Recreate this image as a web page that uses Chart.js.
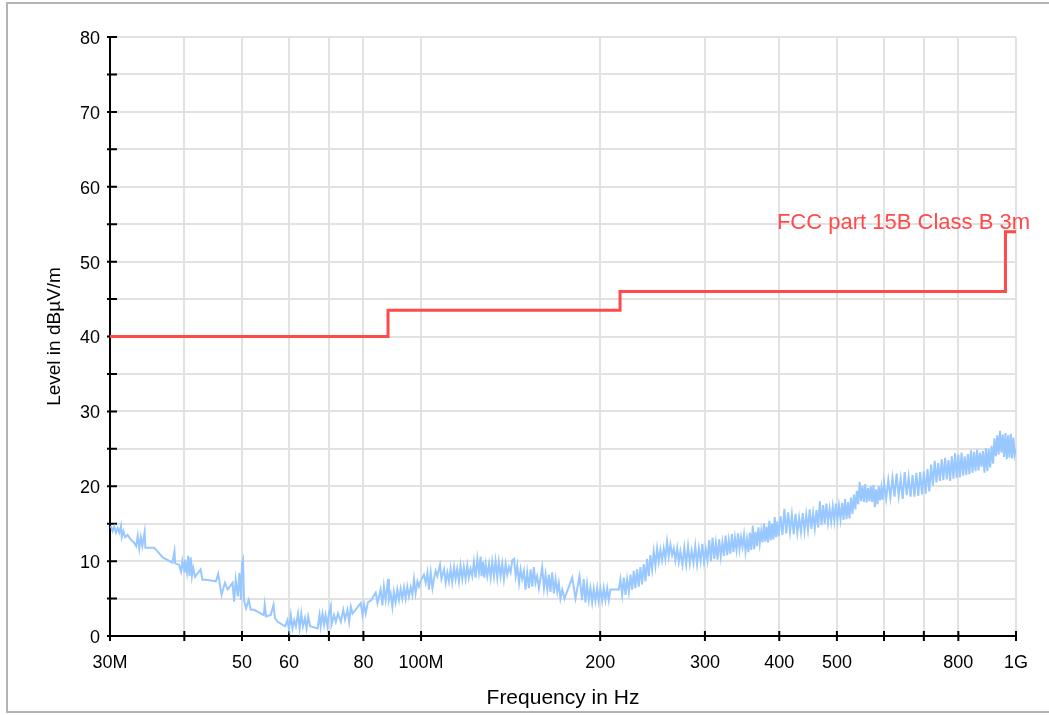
<!DOCTYPE html>
<html>
<head>
<meta charset="utf-8">
<title>Radiated emission scan</title>
<script src="https://cdn.jsdelivr.net/npm/chart.js@4.4.1/dist/chart.umd.min.js"></script>
<style>
  html, body { margin: 0; padding: 0; background: #fff; overflow: hidden; }
  .frame { position: absolute; left: 6px; top: 2px; width: 1100px; height: 711px; border: 2px solid #b3b3b3; box-sizing: border-box; }
  #chart { position: absolute; left: 0; top: 0; }
</style>
</head>
<body>
<div class="frame"></div>
<canvas id="chart" width="1049" height="715"></canvas>
<script>
// axis ticks (frequency in MHz, level in dBµV/m)
const xTickValues = [30, 40, 50, 60, 70, 80, 100, 200, 300, 400, 500, 600, 700, 800, 1000];
const xTickLabels = ['30M', '', '50', '60', '', '80', '100M', '200', '300', '400', '500', '', '', '800', '1G'];
const yTickValues = [0, 5, 10, 15, 20, 25, 30, 35, 40, 45, 50, 55, 60, 65, 70, 75, 80];
const yTickLabels = ['0', '', '10', '', '20', '', '30', '', '40', '', '50', '', '60', '', '70', '', '80'];

// limit line
const limitName = 'FCC part 15B Class B 3m';
const limitFreq = [30, 88, 216, 960, 1000];
const limitLevel = [40, 43.5, 46, 54, 54];

// measured trace
const traceFreq = [
  30.1, 30.3, 30.5, 30.7, 30.9, 31.1, 31.3, 31.4, 31.6, 31.8, 32.1, 32.5, 32.9, 33.2, 33.4, 33.6, 33.8, 34.0, 34.3, 34.4,
  35.6, 36.8, 38.2, 38.5, 38.6, 39.2, 39.5, 39.7, 40.0, 40.1, 40.4, 40.6, 40.8, 41.0, 41.2, 41.4, 41.7, 42.6, 42.9, 43.5,
  45.2, 45.6, 46.2, 46.8, 47.3, 48.2, 48.5, 48.8, 49.2, 49.5, 49.8, 50.0, 50.2, 50.4, 50.8, 51.3, 51.75, 52.4, 54.4, 54.6,
  54.9, 55.9, 56.5, 56.8, 57.4, 59.1, 59.6, 60.0, 60.4, 60.8, 61.2, 61.6, 62.1, 62.5, 62.9, 63.3, 63.8, 64.2, 64.6, 65.1,
  67.0, 67.5, 67.8, 68.3, 68.7, 69.1, 69.6, 70.0, 70.5, 70.7, 71.4, 71.9, 72.5, 73.3, 74.0, 74.5, 75.2, 75.7, 76.2, 76.7,
  79.2, 79.7, 80.2, 80.7, 81.4, 82.5, 83.9, 84.5,
  85.5, 86.1, 86.6, 87.2, 88.0, 88.3, 88.9, 89.5, 90.0, 90.6, 91.2, 91.8, 92.4, 93.0, 93.6, 94.2, 94.8, 95.4, 96.1, 96.7,
  97.3, 97.9, 98.6, 99.2, 99.8, 100.5, 101.1, 101.8, 102.5, 103.1, 103.8, 104.5, 105.1, 105.8, 106.5, 107.6, 108.2, 109.3, 110.0, 110.7,
  111.4, 112.1, 112.8, 113.6, 114.3, 115.0, 115.8, 116.5, 117.3, 118.0, 118.8, 119.6, 120.3, 121.1, 121.9, 122.7, 123.5, 124.3, 125.1, 125.9,
  126.4, 127.1, 127.7, 128.4, 129.2, 130.1, 130.9, 131.7, 132.6, 133.4, 134.3, 135.1, 136.0, 136.9, 137.8, 138.7, 139.6, 140.5, 141.4, 142.3,
  143.3, 144.2, 145.1, 146.1, 147.0, 147.9, 148.9, 149.8, 150.8, 151.8, 152.8, 153.8, 154.7, 155.7, 156.7, 157.8, 158.8, 159.8, 160.9, 161.9,
  163.0, 164.0, 165.0, 166.1, 167.2, 168.3, 169.4, 170.4, 171.5, 172.7, 174.2, 179.5, 181.8, 184.6, 186.5, 187.7, 188.9, 190.1, 191.4, 192.6,
  193.9, 195.1, 196.4, 197.7, 198.9, 200.2, 201.5, 202.8, 204.1, 205.5, 206.8, 208.1, 215.0, 216.3, 217.8, 219.2, 220.6, 222.0, 223.5, 224.9,
  226.3, 227.8, 229.2, 230.7, 232.2, 233.7, 235.2, 236.8, 238.3, 239.8, 241.4, 242.9, 244.5, 246.1, 247.7, 249.3, 250.9, 252.5, 254.1, 255.8,
  257.4, 259.1, 260.8, 262.5, 264.2, 265.9, 267.6, 269.4, 271.1, 272.8,
  275, 277, 279, 281, 283, 285, 287, 289, 291, 293, 295, 297, 299, 301, 303, 305, 307, 309, 311, 313,
  315, 317, 319, 321, 323, 325, 327, 329, 331, 333, 335, 337, 339, 341, 343, 345, 347, 349, 351, 353,
  355, 357, 359, 361, 363, 365, 367, 369, 371, 373, 375, 377, 379, 381, 383, 385, 387, 389, 391, 393,
  395, 397, 399,
  402, 405, 408, 411, 414, 417, 420, 423, 426, 429, 432, 435, 438, 441, 444, 447, 450, 453, 456, 459,
  462, 465, 468, 471, 474, 477, 480, 483, 486, 489, 492, 495, 498, 501, 504, 507, 510, 513, 516, 519,
  522, 525, 528, 531, 534, 537, 540, 543, 546, 549, 552, 555, 558, 561, 564, 567, 570, 573, 576, 579,
  582, 585, 588, 591, 594, 597,
  600, 605, 610, 615, 620, 625, 630, 635, 640, 645, 650, 655, 660, 665, 670, 675, 680, 685, 690, 695,
  700, 705, 710, 715, 720, 725, 730, 735, 740, 745, 750, 755, 760, 765, 770, 775, 780, 785, 790, 795,
  800, 805, 810, 815, 820, 825, 830, 835, 840, 845, 850, 855, 860, 865, 870, 875, 880, 885, 890, 895,
  900, 905, 910, 915, 920, 925, 930, 935, 940, 945, 950, 955, 960, 965, 970, 975, 980, 985, 990, 995,
  1000
];
const traceLevel = [
  14.7, 14.0, 14.6, 13.8, 14.4, 13.8, 14.7, 13.2, 14.0, 13.2, 13.5, 12.9, 12.5, 12.0, 13.4, 11.7, 13.2, 12.0, 13.9, 11.8,
  11.8, 10.5, 9.8, 11.3, 9.7, 9.5, 8.6, 10.0, 8.6, 10.2, 8.5, 10.7, 8.0, 10.5, 8.0, 9.1, 7.9, 8.9, 7.5, 7.5,
  7.3, 8.3, 5.5, 7.1, 6.2, 7.1, 4.6, 7.5, 5.3, 8.4, 4.8, 9.7, 10.2, 4.8, 3.7, 4.8, 3.5, 3.5, 2.8, 4.2,
  2.6, 2.8, 4.2, 2.4, 1.9, 1.3, 2.1, 0.9, 2.8, 1.0, 2.1, 1.3, 3.0, 1.0, 3.0, 1.3, 2.4, 1.0, 2.6, 1.3,
  1.0, 2.8, 1.3, 3.0, 1.5, 2.8, 1.3, 3.0, 4.0, 1.5, 2.8, 1.9, 3.0, 1.9, 3.5, 2.2, 3.5, 1.9, 3.9, 3.0,
  4.4, 2.8, 4.2, 3.0, 4.5, 4.8, 5.8, 4.4,
  6.2, 4.1, 6.6, 4.8, 7.6, 4.8, 5.7, 3.9, 5.9, 4.5, 6.2, 4.8, 6.3, 5.0, 6.5, 5.0, 6.6, 5.3, 6.5, 5.5,
  7.6, 5.7, 7.3, 6.6, 7.3, 7.8, 8.2, 7.1, 8.5, 6.2, 8.5, 6.4, 7.6, 8.7, 8.0, 9.5, 7.6, 8.9, 7.1, 8.5,
  7.3, 9.0, 7.2, 9.2, 7.6, 9.0, 7.3, 9.4, 7.6, 9.2, 7.6, 9.4, 7.8, 9.0, 8.0, 9.9, 7.8, 10.3, 8.5, 10.6,
  8.0, 9.9, 7.8, 9.6, 8.0, 9.6, 7.8, 9.9, 8.0, 10.0, 7.8, 9.9, 8.0, 9.7, 7.6, 9.6, 8.2, 9.2, 8.5, 10.1,
  10.3, 8.0, 9.4, 7.1, 8.9, 7.6, 8.7, 6.2, 8.5, 6.4, 8.9, 6.6, 9.2, 7.1, 8.0, 6.4, 7.8, 9.2, 6.4, 8.2,
  6.2, 8.2, 5.9, 8.5, 5.7, 7.6, 5.9, 7.1, 5.0, 6.2, 5.0, 7.8, 5.0, 8.0, 4.8, 7.6, 4.5, 6.9, 4.8, 6.4,
  4.5, 6.3, 4.7, 6.4, 4.7, 6.3, 4.7, 6.4, 4.8, 6.4, 4.8, 6.2, 6.2, 7.6, 5.5, 7.8, 5.5, 7.6, 5.9, 8.2,
  6.2, 8.7, 6.4, 8.9, 6.6, 9.2, 6.9, 9.6, 7.3, 10.3, 8.0, 10.8, 8.9, 11.3, 9.4, 11.7, 9.9, 11.5, 10.1, 11.7,
  10.3, 12.6, 10.6, 12.2, 10.8, 11.7, 10.1, 11.7, 9.9, 11.3,
  9.5, 11.8, 9.6, 12.0, 9.7, 11.4, 9.8, 12.0, 9.6, 11.7, 10.0, 12.3, 9.9, 11.6, 10.1, 12.8, 10.0, 13.1, 10.3, 12.4,
  10.2, 12.9, 10.6, 12.5, 10.7, 13.4, 10.8, 12.8, 11.0, 13.6, 11.2, 13.1, 11.5, 13.7, 11.6, 13.2, 11.9, 13.5, 11.3, 13.0,
  11.2, 13.8, 11.5, 14.7, 11.6, 13.9, 12.0, 14.5, 12.4, 14.0, 12.5, 15.0, 12.6, 14.6, 12.5, 15.4, 12.8, 15.0, 12.9, 15.9,
  13.2, 15.3, 13.3,
  16.0, 13.5, 17.0, 13.7, 16.5, 13.9, 16.2, 13.6, 16.3, 13.8, 15.8, 13.9, 16.4, 14.0, 16.2, 14.2, 16.9, 14.3, 16.4, 14.4,
  16.8, 14.5, 18.0, 14.8, 17.5, 15.0, 17.7, 15.2, 17.0, 15.3, 17.3, 15.4, 17.7, 15.5, 17.4, 15.6, 17.8, 15.5, 18.3, 15.6,
  17.9, 15.7, 18.5, 16.3, 18.9, 16.9, 19.4, 17.6, 20.6, 18.0, 20.1, 17.9, 20.3, 17.8, 19.8, 18.0, 20.0, 17.9, 20.2, 17.2,
  19.6, 17.6, 20.0, 18.1, 19.8, 18.2,
  20.5, 18.3, 20.8, 18.5, 21.1, 18.6, 21.7, 18.7, 21.0, 18.3, 21.9, 18.8, 21.2, 18.6, 21.5, 18.6, 21.8, 18.7, 21.9, 18.9,
  22.0, 19.0, 22.3, 19.3, 22.9, 20.1, 23.4, 20.5, 23.1, 20.7, 23.6, 20.8, 23.8, 20.9, 23.5, 20.7, 24.0, 21.0, 24.4, 21.1,
  24.2, 21.2, 24.5, 21.4, 24.0, 21.5, 24.3, 21.6, 24.8, 21.8, 24.6, 22.0, 24.9, 22.1, 24.5, 22.6, 24.7, 21.8, 25.1, 22.0,
  25.0, 22.5, 25.4, 23.0, 26.4, 24.0, 26.8, 24.2, 27.4, 24.5, 26.9, 23.9, 27.1, 23.6, 26.8, 23.8, 27.0, 23.7, 26.5, 24.2,
  25.0
];

const limitColor = '#ff4a4a';
const traceColor = '#98c8ff';
const fontFamily = '"Liberation Sans", Arial, sans-serif';

Chart.defaults.font.family = fontFamily;
Chart.defaults.color = '#000';

// tick marks crossing the axes (under the data), and the limit line name
const axisMarks = {
    id: 'axisMarks',
    beforeDatasetsDraw(chart) {
        const { ctx, chartArea, scales: { x, y } } = chart;
        ctx.save();
        ctx.strokeStyle = '#000';
        ctx.lineWidth = 2;
        ctx.beginPath();
        y.ticks.forEach(t => {
            const py = y.getPixelForValue(t.value);
            ctx.moveTo(chartArea.left - 3, py);
            ctx.lineTo(chartArea.left + 7, py);
        });
        x.ticks.forEach(t => {
            const px = x.getPixelForValue(t.value);
            ctx.moveTo(px, chartArea.bottom - 5);
            ctx.lineTo(px, chartArea.bottom + 5);
        });
        ctx.stroke();
        ctx.restore();
    },
    afterDraw(chart) {
        const { ctx, scales: { x, y } } = chart;
        const last = limitFreq.length - 1;
        ctx.save();
        ctx.fillStyle = limitColor;
        ctx.font = '22px ' + fontFamily;
        ctx.textAlign = 'right';
        ctx.textBaseline = 'alphabetic';
        ctx.fillText(limitName, x.getPixelForValue(limitFreq[last]) + 14, y.getPixelForValue(limitLevel[last]) - 3);
        ctx.restore();
    }
};

new Chart(document.getElementById('chart'), {
    type: 'line',
    data: {
        datasets: [
            {
                label: limitName,
                data: limitFreq.map((f, i) => ({ x: f, y: limitLevel[i] })),
                borderColor: limitColor,
                borderWidth: 3,
                stepped: 'before',
                pointRadius: 0,
                order: 0
            },
            {
                label: 'Level',
                data: traceFreq.map((f, i) => ({ x: f, y: traceLevel[i] })),
                borderColor: traceColor,
                borderWidth: 2,
                pointRadius: 0,
                tension: 0,
                order: 1
            }
        ]
    },
    options: {
        responsive: false,
        animation: false,
        layout: { padding: { top: 37, right: 33, left: 0, bottom: 0 } },
        plugins: { legend: { display: false }, tooltip: { enabled: false } },
        scales: {
            x: {
                type: 'logarithmic',
                min: 30,
                max: 1000,
                afterBuildTicks: s => { s.ticks = xTickValues.map(v => ({ value: v })); },
                afterFit: s => { s.height = 79; },
                grid: { color: '#e2e2e2', lineWidth: 2, drawTicks: false },
                border: { display: true, color: '#000', width: 2 },
                ticks: {
                    autoSkip: false,
                    maxRotation: 0,
                    padding: 16,
                    font: { size: 18 },
                    color: '#000',
                    callback: (v, i) => xTickLabels[i]
                },
                title: { display: true, text: 'Frequency in Hz', font: { size: 21 }, color: '#000', padding: { top: 0, bottom: 4 } }
            },
            y: {
                min: 0,
                max: 80,
                afterBuildTicks: s => { s.ticks = yTickValues.map(v => ({ value: v })); },
                afterFit: s => { s.width = 110; },
                grid: { color: '#e2e2e2', lineWidth: 2, drawTicks: false },
                border: { display: true, color: '#000', width: 2 },
                ticks: {
                    padding: 10,
                    labelOffset: 2,
                    font: { size: 18 },
                    color: '#000',
                    callback: (v, i) => yTickLabels[i]
                },
                title: { display: true, text: 'Level in dBµV/m', font: { size: 19 }, color: '#000', padding: { top: 43.6, bottom: 0 } }
            }
        }
    },
    plugins: [axisMarks]
});
</script>
</body>
</html>
